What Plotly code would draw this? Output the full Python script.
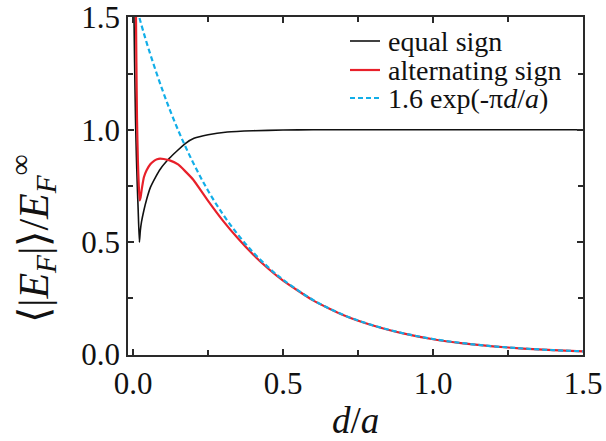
import plotly.graph_objects as go

# ---- data ----
d_equal = [0.002, 0.005, 0.008, 0.011, 0.014, 0.017, 0.021, 0.024, 0.028, 0.036, 0.045,
           0.058, 0.075, 0.091, 0.12, 0.147, 0.175, 0.203, 0.25, 0.314, 0.4, 0.5, 0.6,
           0.8, 1.0, 1.2, 1.5]
v_equal = [1.60, 1.30, 1.05, 0.88, 0.75, 0.64, 0.50, 0.55, 0.59, 0.642, 0.69,
           0.745, 0.79, 0.826, 0.872, 0.907, 0.940, 0.962, 0.978, 0.990, 0.996, 0.999, 1.0,
           1.0, 1.0, 1.0, 1.0]

d_alt = [0.009, 0.011, 0.013, 0.016, 0.019, 0.022, 0.025, 0.030, 0.036, 0.045, 0.058,
         0.070, 0.080, 0.090, 0.102, 0.12, 0.15, 0.175, 0.20, 0.25, 0.30, 0.35, 0.40,
         0.45, 0.50, 0.60, 0.70, 0.80, 0.90, 1.0, 1.1, 1.2, 1.3, 1.4, 1.5]
v_alt = [1.60, 1.30, 1.05, 0.86, 0.75, 0.686, 0.70, 0.745, 0.789, 0.82, 0.848,
         0.862, 0.869, 0.872, 0.870, 0.865, 0.846, 0.814, 0.779, 0.684, 0.595, 0.516, 0.445,
         0.383, 0.329, 0.241, 0.176, 0.129, 0.094, 0.068, 0.050, 0.0365, 0.0267, 0.0195, 0.0142]

d_fit = [0.0, 0.02, 0.05, 0.10, 0.15, 0.20, 0.25, 0.30, 0.35, 0.40, 0.45, 0.50, 0.60,
         0.70, 0.80, 0.90, 1.0, 1.1, 1.2, 1.3, 1.4, 1.5]
v_fit = [1.600, 1.503, 1.367, 1.169, 0.999, 0.854, 0.729, 0.623, 0.533, 0.455, 0.389,
         0.333, 0.243, 0.177, 0.130, 0.095, 0.069, 0.0505, 0.0369, 0.0270, 0.0197, 0.0144]

x_ticks = [0.0, 0.5, 1.0, 1.5]
x_ticklabels = ["0.0", "0.5", "1.0", "1.5"]
y_ticks = [0.0, 0.5, 1.0, 1.5]
y_ticklabels = ["0.0", "0.5", "1.0", "1.5"]

names = ["equal sign", "alternating sign", "1.6 exp(-π<i>d</i>/<i>a</i>)"]
colors = ["#111111", "#e8202a", "#12aee8"]
widths = [1.6, 2.2, 2.2]
dashes = ["solid", "solid", "5px,3px"]

SERIF = "Liberation Serif"
AX = "#2a2a2a"
TXT = "#111111"

fig = go.Figure()
fig.add_trace(go.Scatter(x=d_equal, y=v_equal, mode="lines", name=names[0],
                         line=dict(color=colors[0], width=widths[0], shape="spline", smoothing=0.5)))
fig.add_trace(go.Scatter(x=d_alt, y=v_alt, mode="lines", name=names[1],
                         line=dict(color=colors[1], width=widths[1], shape="spline", smoothing=0.5)))
fig.add_trace(go.Scatter(x=d_fit, y=v_fit, mode="lines", name=names[2],
                         line=dict(color=colors[2], width=widths[2], dash=dashes[2], shape="spline")))

axis_common = dict(
    showgrid=False, zeroline=False, showline=True, linecolor=AX, linewidth=1.8,
    mirror="ticks", ticks="inside", ticklen=6, tickwidth=1.5, tickcolor=AX,
    tickfont=dict(family=SERIF, size=31, color=TXT), automargin=False,
    ticklabeloverflow="allow",
    minor=dict(ticks="inside", ticklen=5, tickwidth=1.5, tickcolor=AX, dtick=0.25),
)

L, R, T, B = 128, 23, 17, 86
W, H = 606, 441
pw, ph = W - L - R, H - T - B

fig.update_layout(
    width=W, height=H,
    margin=dict(l=L, r=R, t=T, b=B),
    paper_bgcolor="white", plot_bgcolor="white",
    xaxis=dict(range=[-0.017, 1.5], tickvals=x_ticks, ticktext=x_ticklabels, **axis_common),
    yaxis=dict(range=[-0.002, 1.502], tickvals=y_ticks, ticktext=y_ticklabels, **axis_common),
    showlegend=False,
)

# axis titles
fig.add_annotation(
    x=(355 - L) / pw, xref="paper", y=-(420 - (T + ph)) / ph, yref="paper",
    text="<i>d</i>/<i>a</i>", showarrow=False, xanchor="center", yanchor="middle",
    font=dict(family=SERIF, size=37, color=TXT),
)
fig.add_annotation(
    x=(33 - L) / pw, xref="paper", y=(T + ph - 239) / ph, yref="paper",
    text="⟨|<i>E</i><sub><i>F</i></sub>|⟩/<i>E</i><sub><i>F</i></sub><sup>∞</sup>",
    textangle=-90, showarrow=False, xanchor="center", yanchor="middle",
    font=dict(family=SERIF, size=42, color=TXT),
)

# legend (line samples + labels)
row_y = [41, 70, 98]
for name, c, w, dsh, yy in zip(names, colors, widths, dashes, row_y):
    yp = (T + ph - yy) / ph
    fig.add_shape(type="line", xref="paper", yref="paper",
                  x0=(350 - L) / pw, x1=(380 - L) / pw, y0=yp, y1=yp,
                  line=dict(color=c, width=w, dash=dsh))
    fig.add_annotation(x=(386 - L) / pw, xref="paper", y=yp, yref="paper",
                       text=name, showarrow=False, xanchor="left", yanchor="middle",
                       font=dict(family=SERIF, size=28, color=TXT))

fig.write_html("out.html", config={"displayModeBar": False},
               post_script="document.body.style.margin='0';")
